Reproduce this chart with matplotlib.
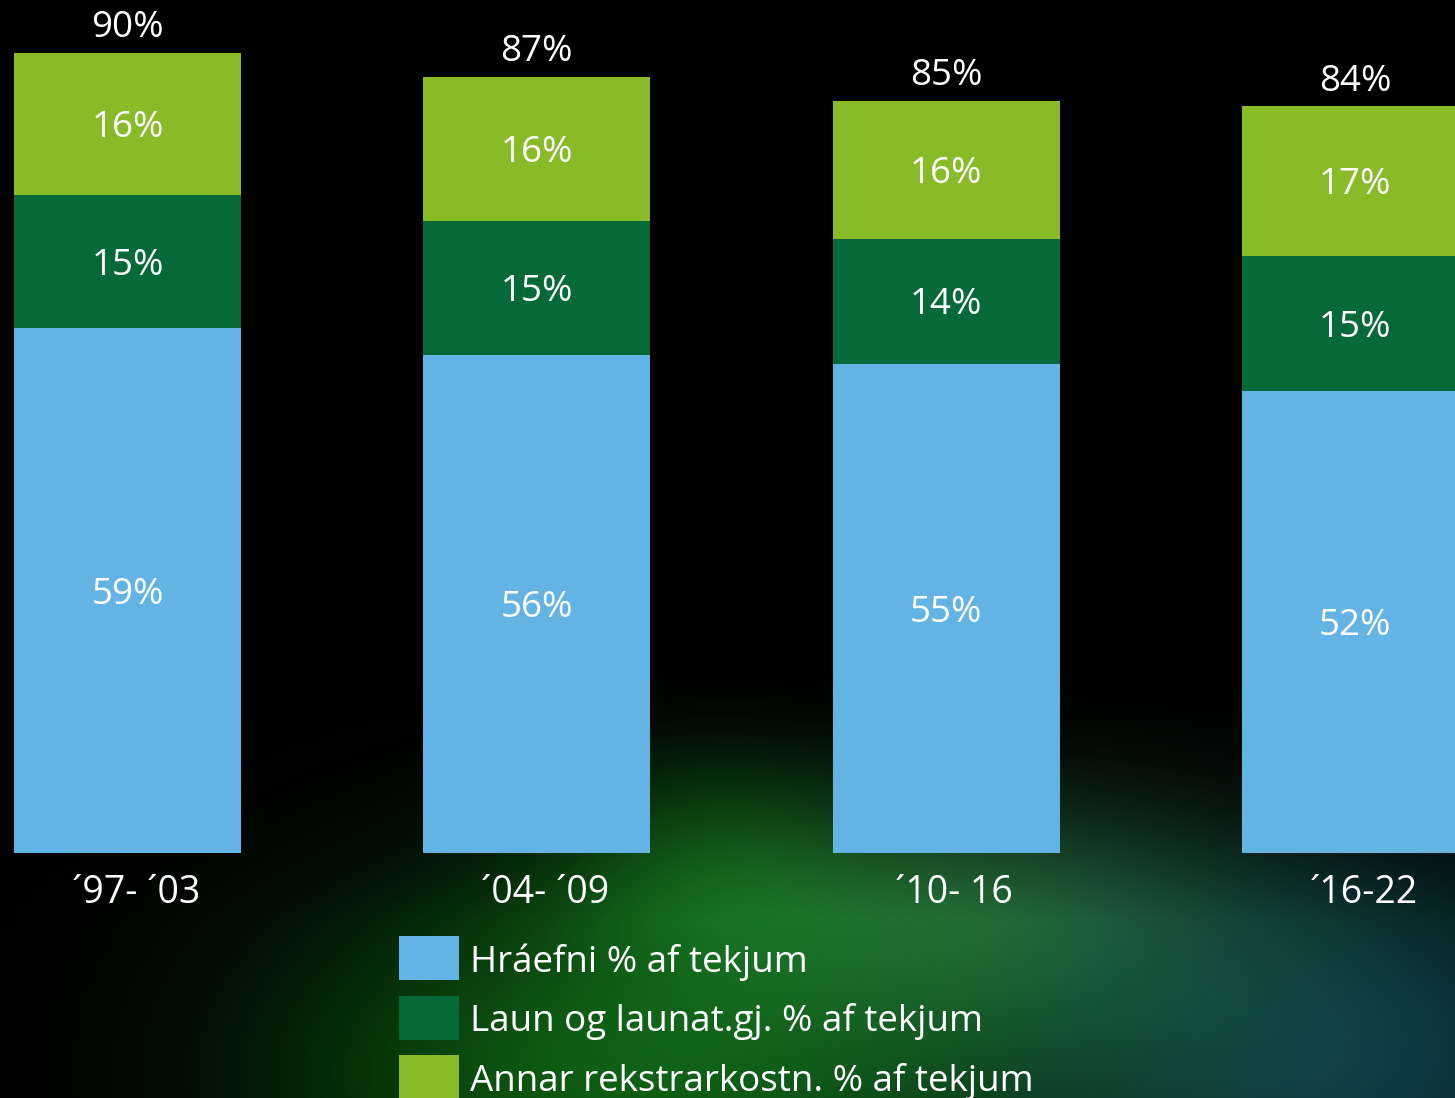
import numpy as np
import matplotlib
matplotlib.use("Agg")
import matplotlib.pyplot as plt
from matplotlib.patches import Rectangle

categories = ["´97- ´03", "´04- ´09", "´10- 16", "´16-22"]
hraefni = [59, 56, 55, 52]
laun = [15, 15.1, 14.1, 15.1]
annar = [16, 16.2, 15.5, 16.9]
series_names = ["Hráefni % af tekjum", "Laun og launat.gj. % af tekjum",
                "Annar rekstrarkostn. % af tekjum"]
colors = ["#63b4e4", "#056a37", "#88bb27"]

plt.rcParams['font.family'] = ['Open Sans', 'DejaVu Sans']

W, H = 1455, 1098
fig = plt.figure(figsize=(W / 100, H / 100), dpi=100)
fig.patch.set_facecolor("black")

# decorative background glow
bg = fig.add_axes([0, 0, 1, 1], zorder=0)
bg.axis("off")
yy, xx = np.mgrid[0:H, 0:W].astype(float)
img = np.zeros((H, W, 3))
def blob(cx, cy, sx, sy, col, amp=1.0):
    g = amp * np.exp(-(((xx - cx) / sx) ** 2 + ((yy - cy) / sy) ** 2))
    for k in range(3):
        img[..., k] += g * col[k]
blob(820, 980, 420, 260, (0.04, 0.26, 0.07))
blob(980, 880, 260, 140, (0.12, 0.22, 0.16), 0.8)
blob(1350, 1060, 300, 220, (0.05, 0.20, 0.26))
blob(560, 1090, 300, 160, (0.03, 0.20, 0.03))
blob(700, 820, 160, 120, (0.03, 0.22, 0.04))
# darken upper area
mask = np.clip((yy - 660) / 260, 0, 1)
img *= mask[..., None]
img = np.clip(img, 0, 1)
bg.imshow(img, extent=[0, W, H, 0], aspect="auto")
bg.set_xlim(0, W)
bg.set_ylim(H, 0)

ax = fig.add_axes([0, 0, 1, 1], zorder=1)
ax.patch.set_alpha(0)
ax.axis("off")
x = np.arange(len(categories))
bw = 0.555
spacing = 409.3
pxp = 8.89
ax.set_xlim(-127.5 / spacing, (W - 127.5) / spacing)
ax.set_ylim(-(H - 853) / pxp, 853 / pxp)

bottom = np.zeros(len(categories))
for vals, col in zip([hraefni, laun, annar], colors):
    vals = np.array(vals)
    ax.bar(x, vals, bw, bottom=bottom, color=col, linewidth=0)
    for xi, b, v in zip(x, bottom, vals):
        ax.text(xi, b + v / 2 - 0.45, f"{v:.0f}%", ha="center", va="center",
                color="white", fontsize=26.5)
    bottom = bottom + vals

for xi, t in zip(x, bottom):
    ax.text(xi, t + 0.75, f"{t:.0f}%", ha="center", va="bottom",
            color="white", fontsize=26.5)

for xi, c in zip(x, categories):
    ax.text(xi + 0.02, -4.55, c, ha="center", va="center", color="white",
            fontsize=27)

# legend
lx0, lw = 399 / spacing - 127.5 / spacing, 60 / spacing
for i, (name, col) in enumerate(zip(series_names, colors)):
    ytop = 853 - (936 + i * 59.5)
    ytop = ytop / pxp
    ax.add_patch(Rectangle((lx0, ytop - 44 / pxp), lw, 44 / pxp, color=col,
                           linewidth=0, clip_on=False))
    ax.text(lx0 + 71 / spacing, ytop - 22 / pxp - 0.5, name, ha="left",
            va="center", color="white", fontsize=26.5)

fig.savefig("out.png", dpi=100, facecolor="black")
